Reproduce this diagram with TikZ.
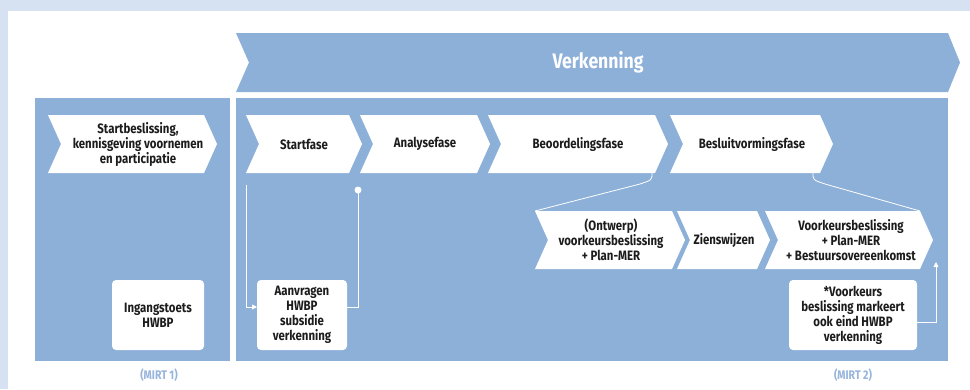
\documentclass[tikz,border=0pt]{standalone}
\usepackage{fontspec}
\setmainfont{Fira Sans}[FakeStretch=0.84]
\usetikzlibrary{arrows.meta}
\definecolor{pblue}{RGB}{141,176,217}
\definecolor{bord}{RGB}{214,225,241}
\definecolor{ink}{RGB}{28,28,28}
\definecolor{mirtc}{RGB}{150,180,220}
\newcommand\chevpath[4]{(#1,#3) -- ({#2-13},#3) -- (#2,{(#3+#4)/2}) -- ({#2-13},#4) -- (#1,#4) -- ({#1+13},{(#3+#4)/2}) -- cycle}
\tikzset{
  lbl/.style={font=\bfseries\fontsize{13.6}{15}\selectfont, text=ink, align=center, inner sep=0pt},
  wbox/.style={fill=white, rounded corners=4pt},
  wline/.style={draw=white, line width=0.8pt},
  mirt/.style={font=\bfseries\fontsize{12.5}{14}\selectfont, text=mirtc, inner sep=0pt}
}
\begin{document}
\begin{tikzpicture}[x=1pt,y=-1pt]
\path[use as bounding box] (0,0) rectangle (970,389);
\fill[bord] (0,0) rectangle (970,389);
\fill[white] (8,11) rectangle (970,389);
% banner
\fill[pblue] (236,33) -- (948,33) -- (960,62.5) -- (948,92) -- (236,92) -- (249,62.5) -- cycle;
\node[font=\bfseries\fontsize{21}{24}\selectfont, text=white, inner sep=0pt] (verk) at (598,62.5) {Verkenning};
% panels
\fill[pblue] (35,98) rectangle (230,361);
\fill[pblue] (236,98) rectangle (948,361);
% row 1 chevrons
\fill[white] \chevpath{48}{217}{115}{173};
\node[lbl] (c1) at (138,144) {Startbeslissing,\\kennisgeving voornemen\\en participatie};
\fill[white] \chevpath{246}{362}{115}{173};
\node[lbl] (c2) at (304,144) {Startfase};
\fill[white] \chevpath{360}{490}{115}{173};
\node[lbl] (c3) at (425,144) {Analysefase};
\fill[white] \chevpath{488}{668}{115}{173};
\node[lbl] (c4) at (578,144) {Beoordelingsfase};
\fill[white] \chevpath{670}{833}{115}{173};
\node[lbl] (c5) at (752,144) {Besluitvormingsfase};
% row 2 chevrons
\fill[white] \chevpath{535}{685}{211}{269};
\node[lbl] (d1) at (611,240) {(Ontwerp)\\voorkeursbeslissing\\+ Plan-MER};
\fill[white] \chevpath{677}{770}{211}{269};
\node[lbl] (d2) at (724,240) {Zienswijzen};
\fill[white] \chevpath{765}{933}{211}{269};
\node[lbl] (d3) at (851,240) {Voorkeursbeslissing\\+ Plan-MER\\+ Bestuursovereenkomst};
% boxes
\fill[wbox] (112,280) rectangle (204,350);
\node[lbl] (b1) at (158,315) {Ingangstoets\\HWBP};
\fill[wbox] (257,280) rectangle (347,350);
\node[lbl] (b2) at (302,315) {Aanvragen\\HWBP\\subsidie\\verkenning};
\fill[wbox] (789,280) rectangle (917,350);
\node[lbl] (b3) at (853,315) {*Voorkeurs\\beslissing markeert\\ook eind HWBP\\verkenning};
% coordinates
\coordinate (s1) at (652,173);
\coordinate (e1) at (535,211);
\coordinate (s2) at (813,173);
\coordinate (e2) at (920,211);
\coordinate (a0) at (246,185);
\coordinate (a1) at (246,307);
\coordinate (a2) at (257,307);
\coordinate (r0) at (347,307);
\coordinate (r1) at (358,307);
\coordinate (dot) at (358,190);
\coordinate (n0) at (917,322);
\coordinate (n1) at (936,322);
\coordinate (n2) at (936,262);
% connectors
\draw[wline] (s1) .. controls (652,180) .. (640,184) -- (e1);
\draw[wline] (s2) .. controls (813,180) .. (825,184) -- (e2);
\draw[wline, -{Triangle[length=5pt,width=5pt]}] (a0) -- (a1) -- (a2);
\draw[wline] (r0) -- (r1) -- (dot);
\fill[white] (dot) circle (3.5pt);
\draw[wline, -{Triangle[length=5pt,width=5pt]}] (n0) -- (n1) -- (n2);
% MIRT
\node[mirt] (m1) at (159,375) {(MIRT 1)};
\node[mirt] (m2) at (853,375) {(MIRT 2)};
\end{tikzpicture}
\end{document}
